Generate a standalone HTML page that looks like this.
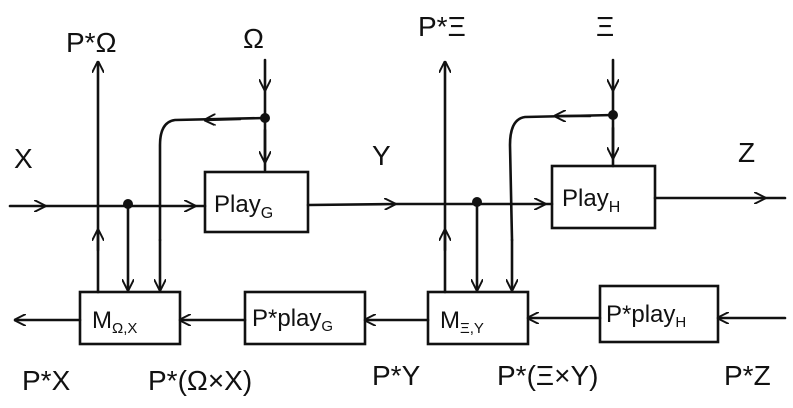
<!DOCTYPE html>
<html><head><meta charset="utf-8"><style>
html,body{margin:0;padding:0;background:#fff;}
svg{display:block;}
text{font-family:"Liberation Sans",sans-serif;fill:#111;}
</style></head><body>
<svg width="793" height="408" viewBox="0 0 793 408" xmlns="http://www.w3.org/2000/svg">
<defs>
<marker id="a" viewBox="0 0 10 10" refX="9" refY="5" markerWidth="12" markerHeight="12" orient="auto-start-reverse" markerUnits="userSpaceOnUse">
<path d="M0,0 L10,5 L0,10" fill="none" stroke="#111" stroke-width="1.6"/>
</marker>
</defs>
<g stroke="#111" stroke-width="2.6" fill="none" stroke-linecap="round">
<line x1="10" y1="206" x2="45" y2="206" marker-end="url(#a)"/>
<line x1="45" y1="206" x2="195" y2="206" marker-end="url(#a)"/>
<line x1="195" y1="206" x2="205" y2="206"/>
<line x1="308" y1="205" x2="395" y2="204" marker-end="url(#a)"/>
<line x1="395" y1="204" x2="545" y2="204" marker-end="url(#a)"/>
<line x1="545" y1="204" x2="552" y2="204"/>
<line x1="655" y1="198" x2="765" y2="198" marker-end="url(#a)"/>
<line x1="765" y1="198" x2="785" y2="198"/>
<line x1="80" y1="320" x2="15" y2="320" marker-end="url(#a)"/>
<line x1="245" y1="320" x2="180" y2="320" marker-end="url(#a)"/>
<line x1="428" y1="320" x2="365" y2="320" marker-end="url(#a)"/>
<line x1="600" y1="318" x2="528" y2="318" marker-end="url(#a)"/>
<line x1="785" y1="318" x2="718" y2="318" marker-end="url(#a)"/>
<rect x="205" y="172" width="103" height="60"/>
<rect x="552" y="166" width="103" height="62"/>
<rect x="80" y="292" width="100" height="52"/>
<rect x="245" y="292" width="120" height="52"/>
<rect x="428" y="292" width="100" height="52"/>
<rect x="600" y="286" width="118" height="56"/>
<line x1="98" y1="292" x2="98" y2="62" marker-end="url(#a)"/>
<line x1="98" y1="250" x2="98" y2="230" marker-end="url(#a)"/>
<line x1="128" y1="204" x2="128" y2="290" marker-end="url(#a)"/>
<line x1="160" y1="240" x2="160" y2="290" marker-end="url(#a)"/>
<path d="M265,118 L175,120 Q160,122 160,145 L160,240"/>
<line x1="240" y1="119" x2="205" y2="120" marker-end="url(#a)"/>
<line x1="265" y1="60" x2="265" y2="90" marker-end="url(#a)"/>
<line x1="265" y1="88" x2="265" y2="170" />
<line x1="265" y1="130" x2="265" y2="162" marker-end="url(#a)"/>
<line x1="445" y1="292" x2="445" y2="62" marker-end="url(#a)"/>
<line x1="445" y1="250" x2="445" y2="230" marker-end="url(#a)"/>
<line x1="477" y1="202" x2="477" y2="290" marker-end="url(#a)"/>
<line x1="512" y1="240" x2="512" y2="290" marker-end="url(#a)"/>
<path d="M613,115 L525,117 Q510,119 510,145 L512,240"/>
<line x1="590" y1="116" x2="555" y2="116" marker-end="url(#a)"/>
<line x1="613" y1="60" x2="613" y2="90" marker-end="url(#a)"/>
<line x1="613" y1="88" x2="613" y2="166"/>
<line x1="613" y1="128" x2="613" y2="158" marker-end="url(#a)"/>
</g>
<g fill="#111">
<circle cx="128" cy="204" r="5"/>
<circle cx="265" cy="118" r="5"/>
<circle cx="477" cy="202" r="5"/>
<circle cx="613" cy="115" r="5"/>
</g>
<g font-size="28">
<text x="14" y="168">X</text>
<text x="372" y="165">Y</text>
<text x="738" y="162">Z</text>
<text x="66" y="52">P*Ω</text>
<text x="243" y="48">Ω</text>
<text x="418" y="36">P*Ξ</text>
<text x="596" y="36">Ξ</text>
<text x="22" y="390">P*X</text>
<text x="148" y="390">P*(Ω×X)</text>
<text x="372" y="385">P*Y</text>
<text x="497" y="385">P*(Ξ×Y)</text>
<text x="724" y="385">P*Z</text>
</g>
<g font-size="24">
<text x="214" y="212">Play<tspan font-size="16" dy="6">G</tspan></text>
<text x="562" y="206">Play<tspan font-size="16" dy="6">H</tspan></text>
<text x="92" y="328">M<tspan font-size="15" dy="5">Ω,X</tspan></text>
<text x="252" y="326">P*play<tspan font-size="15" dy="5">G</tspan></text>
<text x="440" y="328">M<tspan font-size="15" dy="5">Ξ,Y</tspan></text>
<text x="606" y="322">P*play<tspan font-size="15" dy="5">H</tspan></text>
</g>
</svg>
</body></html>
